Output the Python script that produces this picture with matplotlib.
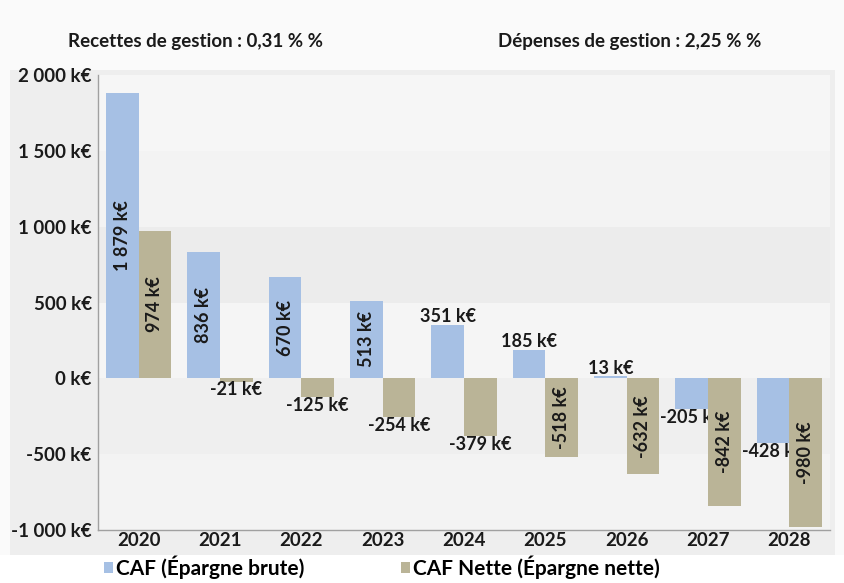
import matplotlib
matplotlib.use("Agg")
import matplotlib.pyplot as plt
from matplotlib.patches import Rectangle, Patch
import numpy as np

plt.rcParams['font.family'] = ['Lato', 'DejaVu Sans']
plt.rcParams['font.weight'] = 'bold'

years = ["2020", "2021", "2022", "2023", "2024", "2025", "2026", "2027", "2028"]
caf_brute = [1879, 836, 670, 513, 351, 185, 13, -205, -428]
caf_nette = [974, -21, -125, -254, -379, -518, -632, -842, -980]
series_names = ["CAF (Épargne brute)", "CAF Nette (Épargne nette)"]
title_left = "Recettes de gestion : 0,31 % %"
title_right = "Dépenses de gestion : 2,25 % %"
yticks = [-1000, -500, 0, 500, 1000, 1500, 2000]

blue = "#a6c0e4"
tan = "#bab497"
text_col = "#1a1a1a"


def keur(v):
    return f"{v:,}".replace(",", " ") + " k€"


fig = plt.figure(figsize=(8.44, 5.83), dpi=100)
fig.patch.set_facecolor("#fafafa")

# grey panel behind the plot and its tick labels
fig.patches.append(Rectangle((10 / 844, 1 - 555 / 583), 825 / 844, 485 / 583,
                             transform=fig.transFigure, facecolor="#eeeeee",
                             edgecolor="none", zorder=-2))
# white strip for the legend
fig.patches.append(Rectangle((0, 0), 1, 1 - 555 / 583,
                             transform=fig.transFigure, facecolor="white",
                             edgecolor="none", zorder=-2))

ax = fig.add_axes([98 / 844, 1 - 530 / 583, 732 / 844, 455 / 583])
ax.set_zorder(1)
ax.set_facecolor("#f0f0f0")

# faint horizontal bands between gridlines
band_cols = ["#f3f3f3", "#efefef", "#f5f5f5", "#ececec", "#f3f3f3", "#f6f6f6"]
for (lo, hi), c in zip(zip(yticks[:-1], yticks[1:]), band_cols):
    ax.axhspan(lo, hi, color=c, zorder=0, lw=0)

x = np.arange(len(years))
w = 0.4
bars_b = ax.bar(x - w / 2, caf_brute, w, color=blue, zorder=2, label=series_names[0])
bars_n = ax.bar(x + w / 2, caf_nette, w, color=tan, zorder=3, label=series_names[1])

fs_lab = 13
for bars, vals, z in ((bars_b, caf_brute, 2.5), (bars_n, caf_nette, 4)):
    for b, v in zip(bars, vals):
        cx = b.get_x() + b.get_width() / 2
        if abs(v) > 450:
            ax.text(cx, v / 2, keur(v), rotation=90, ha="center", va="center",
                    fontsize=fs_lab, color=text_col, zorder=z, fontweight="bold")
        else:
            off = 6 if v >= 0 else -6
            ax.annotate(keur(v), (cx, v), xytext=(0, off), textcoords="offset points",
                        ha="center", va="center", fontsize=fs_lab, color=text_col,
                        zorder=z, fontweight="bold")

ax.set_ylim(-1000, 2000)
ax.set_xlim(-0.5, len(years) - 0.5)
ax.set_yticks(yticks)
ax.set_yticklabels([keur(t) for t in yticks], fontsize=13.5, color=text_col)
ax.set_xticks(x)
ax.set_xticklabels(years, fontsize=13.5, color=text_col)
ax.tick_params(axis="y", length=0, pad=4.5)
ax.tick_params(axis="x", length=0, pad=1.5)
for s in ("top", "right"):
    ax.spines[s].set_visible(False)
for s in ("left", "bottom"):
    ax.spines[s].set_color("#a0a0a0")
    ax.spines[s].set_linewidth(1.0)

fig.text(196 / 844, 1 - 42 / 583, title_left, ha="center", va="center",
         fontsize=13.5, color=text_col, fontweight="bold")
fig.text(630 / 844, 1 - 42 / 583, title_right, ha="center", va="center",
         fontsize=13.5, color=text_col, fontweight="bold")

handles = [Patch(facecolor=blue, edgecolor="none"), Patch(facecolor=tan, edgecolor="none")]
fig.legend(handles, series_names, loc="center left", bbox_to_anchor=(104 / 844, 1 - 567 / 583),
           ncol=2, frameon=False, fontsize=15, handlelength=0.45, handleheight=0.45,
           handletextpad=0.15, columnspacing=4.6, borderaxespad=0, borderpad=0)

fig.savefig("out.png", dpi=100, facecolor=fig.get_facecolor())
